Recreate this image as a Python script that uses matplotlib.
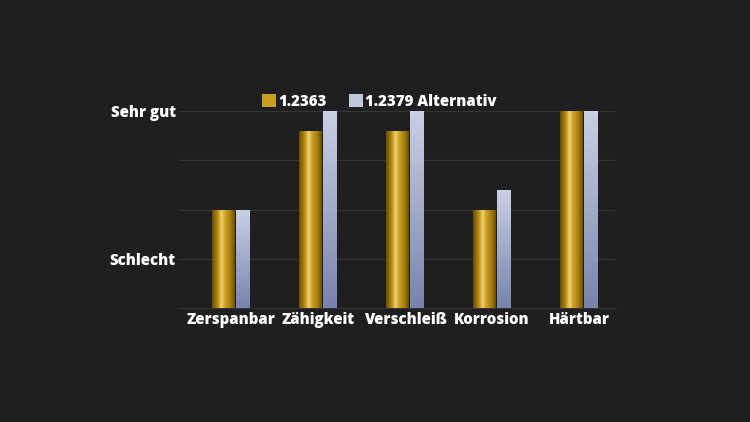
import numpy as np
import matplotlib.pyplot as plt
from matplotlib.colors import LinearSegmentedColormap
from matplotlib.patches import Patch

categories = ['Zerspanbar', 'Zähigkeit', 'Verschleiß', 'Korrosion', 'Härtbar']
steel_2363 = [2, 3.6, 3.6, 2, 4]
steel_2379 = [2, 4, 4, 2.4, 4]
ytick_pos = [1, 4]
ytick_labels = ['Schlecht', 'Sehr gut']
legend_labels = ['1.2363', '1.2379 Alternativ']

bg = '#1f1e20'
plt.rcParams['font.family'] = ['Open Sans', 'DejaVu Sans']
fw = 800
fs = 10.8

gold_cmap = LinearSegmentedColormap.from_list('gold', [
    (0.0, '#6a4c00'), (0.25, '#b88c12'), (0.42, '#f2d472'),
    (0.55, '#d3a62a'), (0.85, '#9c7610'), (1.0, '#6a4c00')])
silver_cmap = LinearSegmentedColormap.from_list('silver', ['#7884ae', '#c9d1e4'])

fig = plt.figure(figsize=(7.5, 4.22), dpi=100, facecolor=bg)
ax = fig.add_axes([0.24, 0.27, 0.58, 0.467], facecolor=bg)

x = np.arange(len(categories))
gold_bars = ax.bar(x, steel_2363, width=0.264, color='none', zorder=3)
silver_bars = ax.bar(x + 0.224, steel_2379, width=0.16, color='none', zorder=3)

hgrad = np.linspace(0, 1, 64).reshape(1, -1)
vgrad = np.linspace(0, 1, 64).reshape(-1, 1)
for p in gold_bars:
    x0, y0 = p.get_x(), p.get_y()
    im = ax.imshow(hgrad, cmap=gold_cmap, aspect='auto', zorder=3,
                   extent=[x0, x0 + p.get_width(), y0, y0 + p.get_height()],
                   origin='lower', interpolation='bicubic')
    im.set_clip_path(p)
for p in silver_bars:
    x0, y0 = p.get_x(), p.get_y()
    im = ax.imshow(vgrad, cmap=silver_cmap, aspect='auto', zorder=3,
                   extent=[x0, x0 + p.get_width(), y0, y0 + p.get_height()],
                   origin='lower', interpolation='bicubic')
    im.set_clip_path(p)

ax.set_xlim(-0.5, len(categories) - 0.5)
ax.set_ylim(0, 4)
ax.set_yticks([1, 2, 3, 4])
ax.set_yticklabels(['Schlecht', '', '', 'Sehr gut'])
ax.set_xticks(x + 0.087)
ax.set_xticklabels(categories)
ax.yaxis.grid(True, color='#353537', linewidth=0.8, zorder=0)
ax.set_axisbelow(True)
ax.tick_params(length=0, colors='white', labelsize=fs, pad=3)
for lab in ax.get_xticklabels() + ax.get_yticklabels():
    lab.set_fontweight(fw)
for s in ['top', 'right', 'left']:
    ax.spines[s].set_visible(False)
ax.spines['bottom'].set_color('#353537')

handles = [Patch(facecolor='#c9a020'), Patch(facecolor='#c0c8dc')]
leg = ax.legend(handles, legend_labels, ncol=2, frameon=False,
                loc='lower left', bbox_to_anchor=(0.175, 0.975),
                handlelength=0.95, handleheight=0.95, handletextpad=0.15,
                columnspacing=1.45, borderaxespad=0,
                prop={'weight': fw, 'size': fs})
for t in leg.get_texts():
    t.set_color('white')

fig.savefig('out.png', facecolor=bg)
